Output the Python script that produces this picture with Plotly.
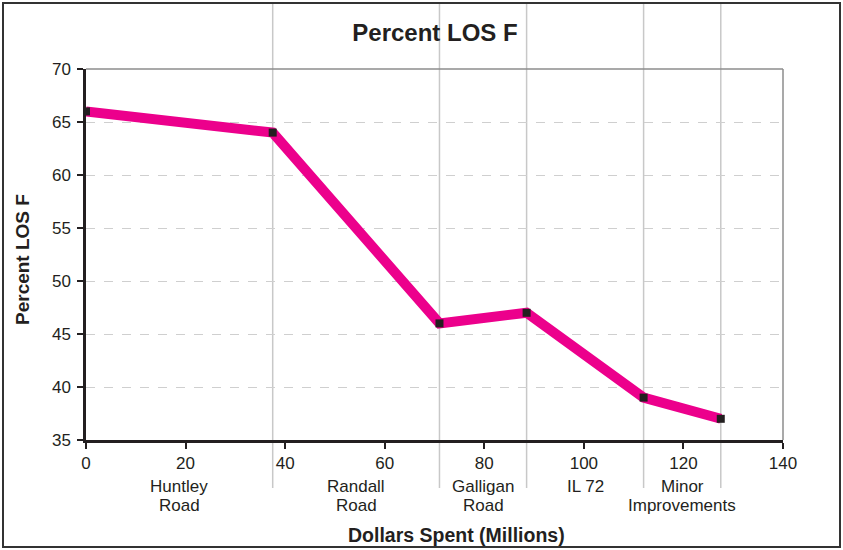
import plotly.graph_objects as go

# Cumulative dollars spent (millions) after each project, and resulting % LOS F
dollars = [0, 37.5, 71, 88.5, 112, 127.5]
pct_los_f = [66, 64, 46, 47, 39, 37]

# Project names, one per spending segment
projects = ["Huntley<br>Road", "Randall<br>Road", "Galligan<br>Road", "IL 72", "Minor<br>Improvements"]

x_ticks = [0, 20, 40, 60, 80, 100, 120, 140]
y_ticks = [35, 40, 45, 50, 55, 60, 65, 70]

PINK = "#EC008C"
INK = "#231F20"
FONT = "Liberation Sans, Arial, sans-serif"

# plot area size in px (used to place paper-referenced items)
PW, PH = 697, 371

fig = go.Figure()

fig.add_trace(go.Scatter(
    x=dollars, y=pct_los_f, mode="lines+markers",
    line=dict(color=PINK, width=10),
    marker=dict(symbol="square", size=8, color=INK),
    hoverinfo="x+y", showlegend=False,
))

shapes = []
annotations = []

# Segment boundaries: vertical gray lines through each project's end point
for xb in dollars[1:]:
    shapes.append(dict(type="line", xref="x", yref="paper", x0=xb, x1=xb,
                       y0=-48 / PH, y1=1 + 66 / PH, line=dict(color="#C8C8C8", width=1.5),
                       layer="below"))

# Project labels centred in their segments, one annotation per text line
for i, name in enumerate(projects):
    mid = (dollars[i] + dollars[i + 1]) / 2
    for j, part in enumerate(name.split("<br>")):
        annotations.append(dict(x=mid, y=-(46 + 19 * j) / PH, xref="x", yref="paper",
                                text=part, showarrow=False, yanchor="middle",
                                font=dict(family=FONT, size=17, color=INK)))

# Axis titles
annotations.append(dict(x=(457 - 86) / PW, y=-95 / PH, xref="paper", yref="paper",
                        text="<b>Dollars Spent (Millions)</b>", showarrow=False,
                        xanchor="center", yanchor="middle",
                        font=dict(family=FONT, size=19.5, color=INK)))
annotations.append(dict(x=-64 / PW, y=(440 - 260) / PH, xref="paper", yref="paper",
                        text="<b>Percent LOS F</b>", showarrow=False, textangle=-90,
                        xanchor="center", yanchor="middle",
                        font=dict(family=FONT, size=19, color=INK)))

# Gray top and right frame of the plot area
shapes.append(dict(type="line", xref="paper", yref="paper", x0=0, x1=1, y0=1, y1=1,
                   line=dict(color="#8C8C8C", width=1.5)))
shapes.append(dict(type="line", xref="paper", yref="paper", x0=1, x1=1, y0=0, y1=1,
                   line=dict(color="#8C8C8C", width=1.5)))

# Outer border around the whole figure
shapes.append(dict(type="rect", xref="paper", yref="paper",
                   x0=-83 / PW, x1=1 + 57 / PW, y0=-107 / PH, y1=1 + 66 / PH,
                   line=dict(color="#333333", width=2)))

fig.update_layout(
    width=843, height=550,
    margin=dict(l=86, r=60, t=69, b=110, autoexpand=False),
    paper_bgcolor="white", plot_bgcolor="white",
    font=dict(family=FONT, color=INK),
    title=dict(text="<b>Percent LOS F</b>", x=435 / 843, xanchor="center",
               y=1 - 33 / 550, yanchor="middle", font=dict(size=24, color=INK)),
    shapes=shapes,
    annotations=annotations,
    xaxis=dict(
        range=[0, 140], tickvals=x_ticks, ticks="outside", ticklen=6,
        tickwidth=1.5, tickcolor=INK, automargin=False,
        showline=True, linecolor=INK, linewidth=2.5,
        showgrid=False, zeroline=False,
        tickfont=dict(size=17, color=INK),
    ),
    yaxis=dict(
        range=[35, 70], tickvals=y_ticks, ticks="outside", ticklen=6,
        tickwidth=1.5, tickcolor=INK, automargin=False, ticklabelstandoff=3,
        showline=True, linecolor=INK, linewidth=2.5,
        showgrid=True, gridcolor="#CFCFCF", griddash="dash", gridwidth=1,
        zeroline=False,
        tickfont=dict(size=17, color=INK),
    ),
)

fig.write_html("out.html")
